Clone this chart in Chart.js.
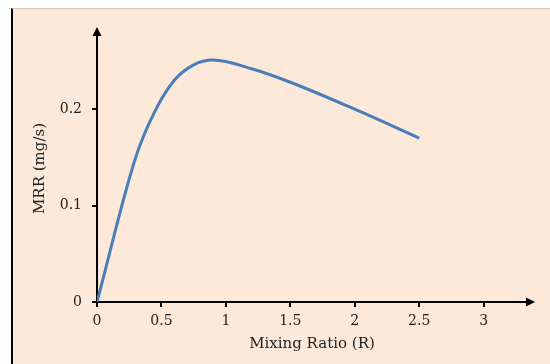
<!DOCTYPE html>
<html>
<head>
<meta charset="utf-8">
<script src="https://cdn.jsdelivr.net/npm/chart.js@4"></script>
<style>
body{margin:0;background:#fff;}
#box{position:absolute;left:11px;top:8px;width:537px;height:356px;background:#FDE9D9;border-left:2px solid #000;border-top:1px solid #d9c7ba;}
</style>
</head>
<body>
<div id="box"><canvas id="myChart" width="537" height="356"></canvas></div>
<script>
// mixing ratio vs MRR
let ratio=[0,0.3,0.45,0.6,0.75,0.9,1.2,1.5,2,2.5];
let mrr=[0,0.15,0.198,0.23,0.246,0.251,0.242,0.228,0.2,0.17];
let xTicks=[0,0.5,1,1.5,2,2.5,3];
let yTicks=[0,0.1,0.2];

let puntos=ratio.map(function(r,i){return {x:r,y:mrr[i]};});

// arrow heads at the ends of the axes
let flechas={
    id:'flechas',
    afterDraw:function(chart){
        let c=chart.ctx, a=chart.chartArea;
        c.save();
        c.fillStyle='#000';
        c.beginPath();
        c.moveTo(a.left,a.top-8);
        c.lineTo(a.left-4.5,a.top+1);
        c.lineTo(a.left+4.5,a.top+1);
        c.closePath();
        c.fill();
        c.beginPath();
        c.moveTo(a.right+8,a.bottom);
        c.lineTo(a.right-1,a.bottom-4.5);
        c.lineTo(a.right-1,a.bottom+4.5);
        c.closePath();
        c.fill();
        c.restore();
    }
};

let fuente="'DejaVu Serif', serif";

var ctx=document.getElementById('myChart').getContext('2d');
var chart=new Chart(ctx,{
    type:'scatter',
    data:{
        datasets:[{
            data:puntos,
            showLine:true,
            borderColor:'#4A7EBB',
            borderWidth:3,
            pointRadius:0,
            cubicInterpolationMode:'monotone',
            fill:false
        }]
    },
    options:{
        responsive:false,
        animation:false,
        layout:{padding:{top:26,right:23,left:0,bottom:0}},
        plugins:{legend:{display:false},tooltip:{enabled:false}},
        scales:{
            x:{
                type:'linear',
                min:0,
                max:3.336,
                afterBuildTicks:function(s){s.ticks=xTicks.map(function(v){return {value:v};});},
                afterFit:function(s){s.height=63;},
                ticks:{color:'#222',font:{family:fuente,size:14},padding:6,maxRotation:0,
                    callback:function(v){return String(v);}},
                grid:{drawOnChartArea:false,drawTicks:true,tickLength:5,color:'#000',lineWidth:2},
                border:{display:true,color:'#000',width:2},
                title:{display:true,text:'Mixing Ratio (R)',color:'#222',font:{family:fuente,size:15},padding:{top:0,bottom:12}}
            },
            y:{
                type:'linear',
                min:0,
                max:0.277,
                afterBuildTicks:function(s){s.ticks=yTicks.map(function(v){return {value:v};});},
                afterFit:function(s){s.width=84;},
                ticks:{color:'#222',font:{family:fuente,size:14},padding:10,
                    callback:function(v){return String(v);}},
                grid:{drawOnChartArea:false,drawTicks:true,tickLength:5,color:'#000',lineWidth:2},
                border:{display:true,color:'#000',width:2},
                title:{display:true,text:'MRR (mg/s)',color:'#222',font:{family:fuente,size:15},padding:{top:18,bottom:0}}
            }
        }
    },
    plugins:[flechas]
});
</script>
</body>
</html>
